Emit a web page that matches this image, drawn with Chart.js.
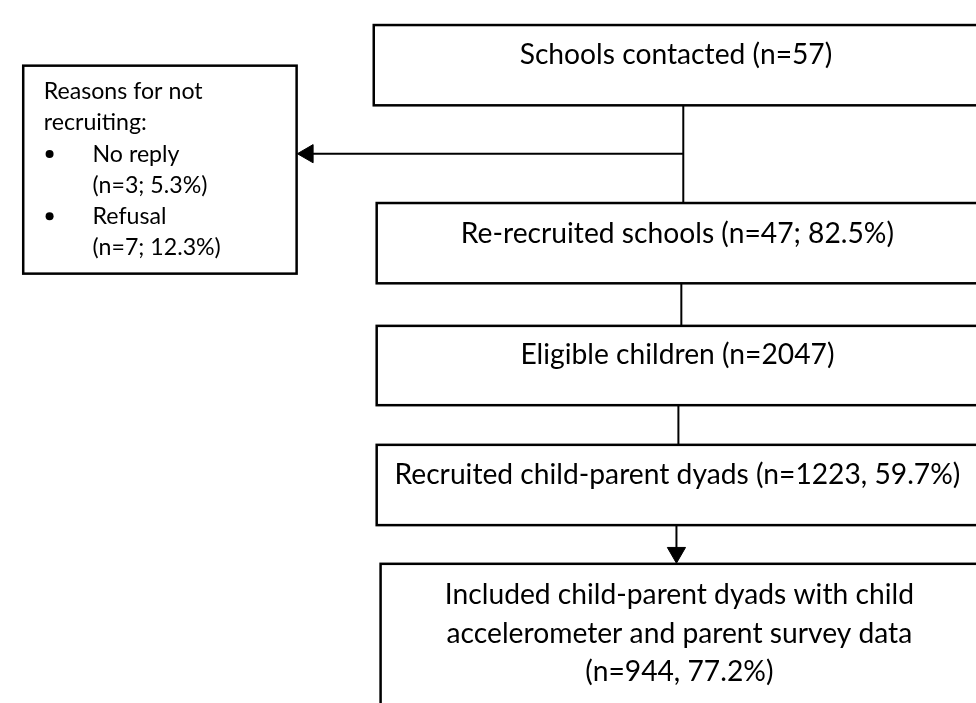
<!DOCTYPE html>
<html>
<head>
<meta charset="utf-8">
<script src="https://cdn.jsdelivr.net/npm/chart.js@4.4.0/dist/chart.umd.min.js"></script>
<style>
  html, body { margin: 0; padding: 0; background: #fff; overflow: hidden; }
  #wrap { width: 976px; height: 703px; }
</style>
</head>
<body>
<div id="wrap"><canvas id="flow" width="976" height="703"></canvas></div>
<script>
// flow stages
const stageLabels = ['Schools contacted', 'Re-recruited schools', 'Eligible children',
    'Recruited child-parent dyads', 'Included child-parent dyads with child\naccelerometer and parent survey data'];
const stageCounts = [57, 47, 2047, 1223, 944];
const stagePercents = [null, 82.5, null, 59.7, 77.2];
const stageSeparators = ['', '; ', '', ', ', ', '];

// schools not recruited
const reasonTitle = ['Reasons for not', 'recruiting:'];
const reasonLabels = ['No reply', 'Refusal'];
const reasonCounts = [3, 7];
const reasonPercents = [5.3, 12.3];

// layout (canvas units): x0, x1, y0, y1
const stageBoxes = [
    [371, 990, 14, 97],
    [374, 990, 198, 281],
    [374, 990, 325, 407],
    [374, 990, 448, 531],
    [378, 990, 571, 720]
];
const stageTextY = [45, 230, 355, 479, 603];
const connectorX = [688, 686, 683, 681];
const reasonBox = [12, 292, 56, 271];
const exclusionY = 147;
const arrowR = 10.5;

function stageText(i) {
    let t = stageLabels[i];
    const pct = stagePercents[i] === null ? '' : stageSeparators[i] + stagePercents[i].toFixed(1) + '%';
    const n = '(n=' + stageCounts[i] + pct + ')';
    if (t.includes('\n')) return (t + '\n' + n).split('\n');
    return [t + ' ' + n];
}

// connectors as line datasets, arrowheads as triangle points
const connectors = [];
connectors.push({
    data: [{ x: connectorX[0], y: stageBoxes[0][3] }, { x: connectorX[0], y: stageBoxes[1][2] }],
    pointRadius: 0
});
connectors.push({
    data: [{ x: connectorX[0], y: exclusionY }, { x: reasonBox[1] + 1 + arrowR, y: exclusionY }],
    pointRadius: [0, arrowR], pointRotation: [0, -90]
});
connectors.push({
    data: [{ x: connectorX[1], y: stageBoxes[1][3] }, { x: connectorX[1], y: stageBoxes[2][2] }],
    pointRadius: 0
});
connectors.push({
    data: [{ x: connectorX[2], y: stageBoxes[2][3] }, { x: connectorX[2], y: stageBoxes[3][2] }],
    pointRadius: 0
});
connectors.push({
    data: [{ x: connectorX[3], y: stageBoxes[3][3] }, { x: connectorX[3], y: stageBoxes[4][2] - 1 - arrowR }],
    pointRadius: [0, arrowR], pointRotation: [0, 180]
});
connectors.forEach(d => {
    d.showLine = true;
    d.borderColor = '#000';
    d.borderWidth = 2;
    d.pointStyle = 'triangle';
    d.pointBackgroundColor = '#000';
    d.pointBorderColor = '#000';
    d.pointBorderWidth = 1;
});

function fitFont(ctx, text, target, family) {
    ctx.font = '100px ' + family;
    return 100 * target / ctx.measureText(text).width;
}

const boxPlugin = {
    id: 'boxes',
    afterDraw(chart) {
        const ctx = chart.ctx;
        const xs = chart.scales.x, ys = chart.scales.y;
        const family = 'Lato, "Open Sans", sans-serif';
        ctx.save();
        ctx.strokeStyle = '#000';
        ctx.lineWidth = 2.5;
        ctx.fillStyle = '#000';

        const mainSize = fitFont(ctx, stageText(3)[0], 566, family);
        stageBoxes.forEach((b, i) => {
            const x0 = xs.getPixelForValue(b[0]), x1 = xs.getPixelForValue(b[1]);
            const y0 = ys.getPixelForValue(b[2]), y1 = ys.getPixelForValue(b[3]);
            ctx.strokeRect(x0, y0, x1 - x0, y1 - y0);
            ctx.font = mainSize + 'px ' + family;
            ctx.textAlign = 'center';
            ctx.textBaseline = 'middle';
            const cx = (x0 + x1) / 2;
            stageText(i).forEach((line, k) => {
                ctx.fillText(line, cx, ys.getPixelForValue(stageTextY[i] + k * 40));
            });
        });

        // reasons box
        const r = reasonBox;
        const rx0 = xs.getPixelForValue(r[0]), rx1 = xs.getPixelForValue(r[1]);
        const ry0 = ys.getPixelForValue(r[2]), ry1 = ys.getPixelForValue(r[3]);
        ctx.strokeRect(rx0, ry0, rx1 - rx0, ry1 - ry0);
        const sideSize = fitFont(ctx, reasonTitle[0], 159, family);
        ctx.font = sideSize + 'px ' + family;
        ctx.textAlign = 'left';
        ctx.textBaseline = 'middle';
        const lines = [];
        reasonTitle.forEach(t => lines.push({ text: t, x: 33 }));
        reasonLabels.forEach((lab, i) => {
            lines.push({ text: lab, x: 83, bullet: true });
            lines.push({ text: '(n=' + reasonCounts[i] + '; ' + reasonPercents[i].toFixed(1) + '%)', x: 83 });
        });
        lines.forEach((l, k) => {
            const y = ys.getPixelForValue(83 + k * 32.2);
            ctx.fillText(l.text, xs.getPixelForValue(l.x), y);
            if (l.bullet) {
                ctx.beginPath();
                ctx.arc(xs.getPixelForValue(39), y, 4, 0, Math.PI * 2);
                ctx.fill();
            }
        });
        ctx.restore();
    }
};

new Chart(document.getElementById('flow'), {
    type: 'scatter',
    data: { datasets: connectors },
    options: {
        responsive: false,
        animation: false,
        devicePixelRatio: 1,
        events: [],
        layout: { padding: 0 },
        scales: {
            x: { type: 'linear', min: 0, max: 976, display: false },
            y: { type: 'linear', min: 0, max: 703, reverse: true, display: false }
        },
        plugins: { legend: { display: false }, tooltip: { enabled: false } }
    },
    plugins: [boxPlugin]
});
</script>
</body>
</html>
